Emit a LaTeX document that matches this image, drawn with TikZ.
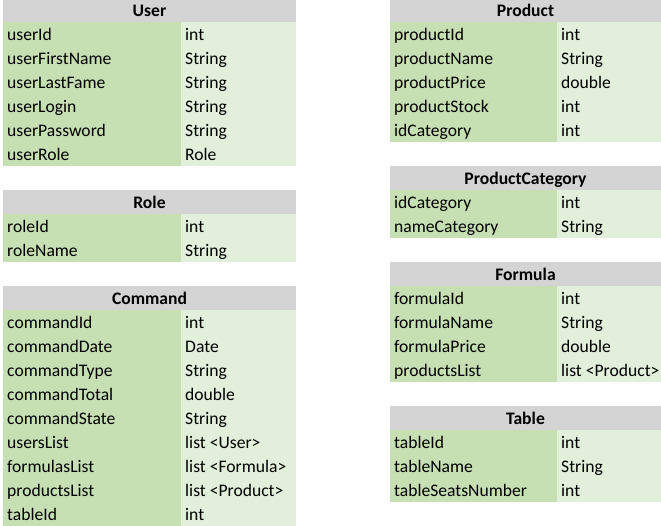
\documentclass[tikz,border=0pt]{standalone}
\usepackage{fontspec}
\setmainfont{Carlito}
\definecolor{headgray}{HTML}{D4D4D4}
\definecolor{keygreen}{HTML}{C6E0B4}
\definecolor{typegreen}{HTML}{E2EFDA}
% one entity: name, left x, divide x, right x, top y, rows field/type
\newcommand{\entity}[6]{%
\fill[head] (#2,#5) rectangle (#4,#5+24); \node[headtext] (#1) at ({(#2+#4)/2},#5+18.7) {#1};
\foreach[count=\i] \f/\t in {#6} {\fill[keycell] (#2,{#5+24*\i}) rectangle (#3,{#5+24*(\i+1)}); \fill[typecell] (#3,{#5+24*\i}) rectangle (#4,{#5+24*(\i+1)});
\node[celltext] (#1-\i-f) at (#2+4,{#5+24*\i+18.7}) {\f}; \node[celltext] (#1-\i-t) at (#3+4,{#5+24*\i+18.7}) {\t};}}

\begin{document}
\begin{tikzpicture}[x=1pt,y=-1pt,head/.style={fill=headgray},keycell/.style={fill=keygreen},typecell/.style={fill=typegreen},celltext/.style={anchor=base west,inner sep=0pt,font=\fontsize{17.6}{20}\selectfont},headtext/.style={anchor=base,inner sep=0pt,font=\fontsize{17.6}{20}\selectfont\bfseries}]
\useasboundingbox (0,0) rectangle (661,526);
\entity{User}{3}{181}{296}{-2}{userId/int,userFirstName/String,userLastFame/String,userLogin/String,userPassword/String,userRole/Role}
\entity{Role}{3}{181}{296}{190}{roleId/int,roleName/String}
\entity{Command}{3}{181}{296}{286}{commandId/int,commandDate/Date,commandType/String,commandTotal/double,commandState/String,usersList/list <User>,formulasList/list <Formula>,productsList/list <Product>,tableId/int}
\entity{Product}{390}{557}{661}{-2}{productId/int,productName/String,productPrice/double,productStock/int,idCategory/int}
\entity{ProductCategory}{390}{557}{661}{166}{idCategory/int,nameCategory/String}
\entity{Formula}{390}{557}{661}{262}{formulaId/int,formulaName/String,formulaPrice/double,productsList/list <Product>}
\entity{Table}{390}{557}{661}{406}{tableId/int,tableName/String,tableSeatsNumber/int}
\end{tikzpicture}
\end{document}
